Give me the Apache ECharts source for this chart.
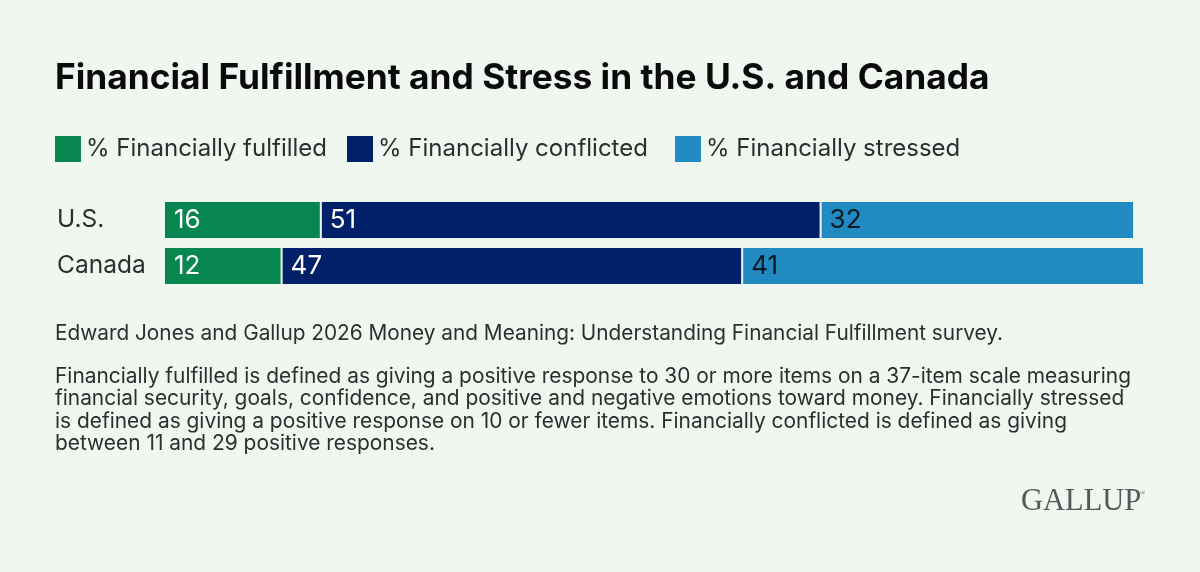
<!DOCTYPE html>
<html>
<head>
<meta charset="utf-8">
<style>html,body{margin:0;padding:0;background:#f0f7f1}#c{width:1200px;height:572px}</style>
<script src="https://cdn.jsdelivr.net/npm/echarts@6/dist/echarts.min.js"></script>
</head>
<body>
<div id="c"></div>
<script>
const categories = ['U.S.', 'Canada'];
const fulfilled = [16, 12];
const conflicted = [51, 47];
const stressed = [32, 41];
const seriesNames = ['% Financially fulfilled', '% Financially conflicted', '% Financially stressed'];
const legendLefts = [50, 342, 670];
const titleText = 'Financial Fulfillment and Stress in the U.S. and Canada';
const sourceText = 'Edward Jones and Gallup 2026 Money and Meaning: Understanding Financial Fulfillment survey.';
const noteText = 'Financially fulfilled is defined as giving a positive response to 30 or more items on a 37-item scale measuring\nfinancial security, goals, confidence, and positive and negative emotions toward money. Financially stressed\nis defined as giving a positive response on 10 or fewer items. Financially conflicted is defined as giving\nbetween 11 and 29 positive responses.';
const bg = '#f0f7f1';
const FONT = 'Inter';

function bar(name, data, color, labelColor, dist) {
  return {
    name, type: 'bar', stack: 'total', data, barWidth: 38,
    itemStyle: { color, borderColor: bg, borderWidth: 1 },
    label: { show: true, position: 'insideLeft', distance: dist, color: labelColor, fontFamily: FONT, fontSize: 26 }
  };
}

const chart = echarts.init(document.getElementById('c'), null, { renderer: 'canvas' });
chart.setOption({
  backgroundColor: bg,
  animation: false,
  title: [
    { text: titleText, left: 50, top: 56, textStyle: { fontFamily: FONT, fontWeight: 700, fontSize: 35.3, color: '#0b0b0b' } },
    { text: sourceText, left: 50, top: 318, textStyle: { fontFamily: FONT, fontWeight: 400, fontSize: 20.8, color: '#2b2f2d' } },
    { text: noteText, left: 50, top: 360, textStyle: { fontFamily: FONT, fontWeight: 400, fontSize: 20.9, lineHeight: 22.5, color: '#2b2f2d' } },
    { text: 'GALLUP', left: 1016, top: 481, textStyle: { fontFamily: 'Liberation Serif', fontWeight: 400, fontSize: 30.5, color: '#555a58' } },
    { text: '®', left: 1135, top: 485, textStyle: { fontFamily: 'Liberation Serif', fontWeight: 400, fontSize: 7, color: '#555a58' } }
  ],
  legend: seriesNames.map((name, i) => ({
    left: legendLefts[i], top: 131, itemWidth: 26, itemHeight: 26, icon: 'rect',
    data: [name],
    itemStyle: { borderWidth: 0 },
    textStyle: { fontFamily: FONT, fontSize: 24, color: '#2b2f2d' }
  })),
  grid: { left: 164, top: 197, width: 980, height: 92 },
  xAxis: { type: 'value', min: 0, max: 100, show: false },
  yAxis: {
    type: 'category', data: categories, inverse: true,
    axisLine: { show: false }, axisTick: { show: false },
    axisLabel: { align: 'left', margin: 107, padding: [2, 0, 0, 0], fontFamily: FONT, fontSize: 24.5, color: '#2b2f2d' }
  },
  series: [
    bar(seriesNames[0], fulfilled, '#07874f', '#ffffff', 10),
    bar(seriesNames[1], conflicted, '#002169', '#ffffff', 9),
    bar(seriesNames[2], stressed, '#218ac1', '#0b1a24', 9)
  ]
});
</script>
</body>
</html>
